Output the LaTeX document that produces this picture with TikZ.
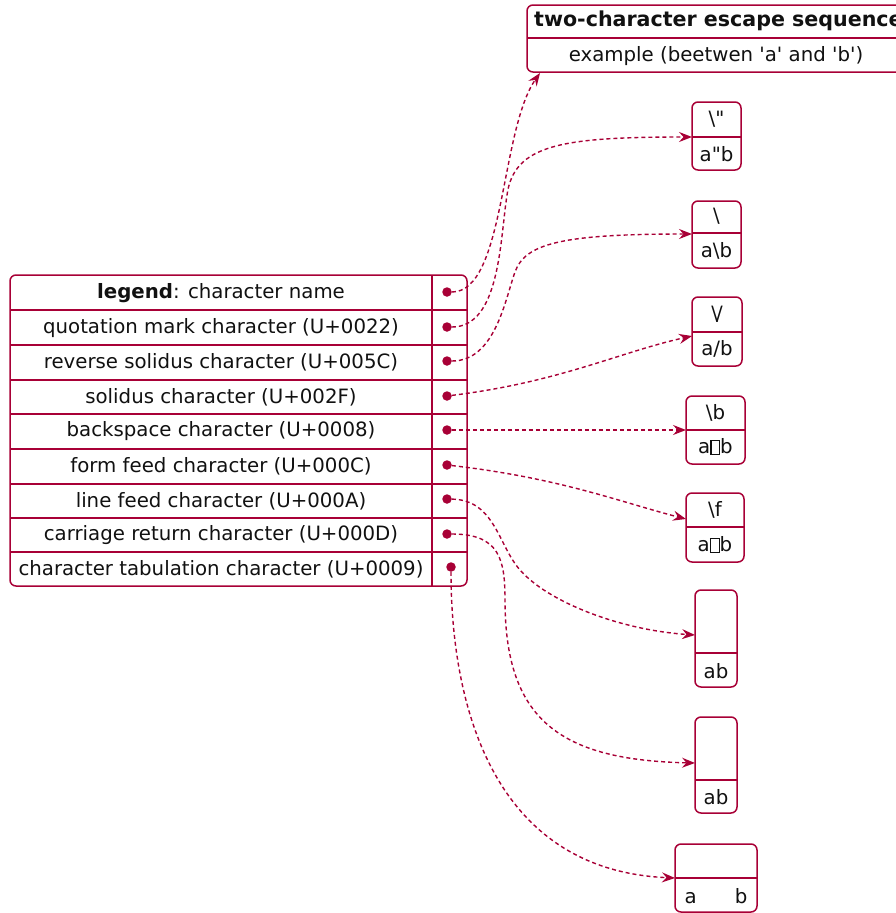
\documentclass[tikz,border=0pt]{standalone}
\usepackage{fontspec}
\setmainfont{DejaVu Sans}
\usetikzlibrary{arrows.meta, calc}
\definecolor{umlred}{HTML}{A80036}
\definecolor{umlink}{HTML}{111111}
\newcommand{\tofubox}{{\setlength{\fboxsep}{0pt}\setlength{\fboxrule}{1.2pt}\fbox{\rule{0pt}{13pt}\hspace{7.5pt}}}}

\begin{document}
\begin{tikzpicture}[x=1pt, y=-1pt,
  cell/.style={font=\fontsize{19.75}{23}\selectfont, text=umlink, inner sep=0pt},
  boxline/.style={umlred, line width=1.5pt, rounded corners=6pt},
  sepline/.style={umlred, line width=1.5pt},
  rowdot/.style={circle, fill=umlred, inner sep=0pt, minimum size=9.5pt},
  link/.style={-{Stealth[length=13pt, width=10pt, inset=4.5pt]}, umlred, line width=1.4pt, dash pattern=on 4pt off 3pt}]

\useasboundingbox (0,0) rectangle (896,913);

% Legend table
\draw[boxline, fill=white] (10,275) rectangle (467,586);
\draw[sepline] (432,275) -- (432,586);
\foreach \y in {310,345,380,414,449,484,518,552}
  \draw[sepline] (10,\y) -- (467,\y);

\node[cell] (legend) at (221,293) {\textbf{legend}: character name};
\node[cell] (quot) at (221,328) {quotation mark character (U+0022)};
\node[cell] (rsol) at (221,362) {reverse solidus character (U+005C)};
\node[cell] (sol) at (221,397) {solidus character (U+002F)};
\node[cell] (bs) at (221,431) {backspace character (U+0008)};
\node[cell] (ff) at (221,466) {form feed character (U+000C)};
\node[cell] (lf) at (221,501) {line feed character (U+000A)};
\node[cell] (cr) at (221,535) {carriage return character (U+000D)};
\node[cell] (tab) at (221,569) {character tabulation character (U+0009)};

\node[rowdot] (legend-dot) at (447,292) {};
\node[rowdot] (quot-dot) at (447,327) {};
\node[rowdot] (rsol-dot) at (447,361) {};
\node[rowdot] (sol-dot) at (447,396) {};
\node[rowdot] (bs-dot) at (447,430) {};
\node[rowdot] (ff-dot) at (447,465) {};
\node[rowdot] (lf-dot) at (447,499) {};
\node[rowdot] (cr-dot) at (447,534) {};
\node[rowdot] (tab-dot) at (451,567) {};

% Header box
\draw[boxline, fill=white] (527,5) rectangle (912,72);
\draw[sepline] (527,38) -- (912,38);
\node[cell, anchor=west] (head) at (534,21) {\fontsize{20.6}{24}\selectfont\bfseries two-character escape sequence};
\node[cell] (head-ex) at (716,56) {example (beetwen \textquotesingle a\textquotesingle{} and \textquotesingle b\textquotesingle)};
\coordinate (head-in) at (540,73);

% Escape boxes
\draw[boxline, fill=white] (692,102) rectangle (741,170);
\draw[sepline] (692,137) -- (741,137);
\node[cell] (quot-esc) at (716.5,119) {\textbackslash\textquotedbl};
\node[cell] (quot-ex) at (716.5,154) {a\textquotedbl b};
\coordinate (quot-in) at (692,137);

\draw[boxline, fill=white] (692,201) rectangle (741,268);
\draw[sepline] (692,233) -- (741,233);
\node[cell] (rsol-esc) at (716.5,216) {\textbackslash};
\node[cell] (rsol-ex) at (716.5,251) {a\textbackslash b};
\coordinate (rsol-in) at (692,234);

\draw[boxline, fill=white] (692,297) rectangle (742,366);
\draw[sepline] (692,332) -- (742,332);
\node[cell] (sol-esc) at (717,314) {\textbackslash\kern-2pt/};
\node[cell] (sol-ex) at (717,349) {a/b};
\coordinate (sol-in) at (692,336);

\draw[boxline, fill=white] (686,396) rectangle (745,464);
\draw[sepline] (686,430) -- (745,430);
\node[cell] (bs-esc) at (715.5,413) {\textbackslash b};
\node[cell] (bs-ex) at (715.5,447) {a\tofubox b};
\coordinate (bs-in) at (686,430);

\draw[boxline, fill=white] (686,493) rectangle (744,562);
\draw[sepline] (686,527) -- (744,527);
\node[cell] (ff-esc) at (715,510) {\textbackslash f};
\node[cell] (ff-ex) at (715,545) {a\tofubox b};
\coordinate (ff-in) at (686,519);

\draw[boxline, fill=white] (695,590) rectangle (737,687);
\draw[sepline] (695,653) -- (737,653);
\node[cell] (lf-ex) at (716,671) {ab};
\coordinate (lf-in) at (695,635);

\draw[boxline, fill=white] (695,717) rectangle (737,813);
\draw[sepline] (695,780) -- (737,780);
\node[cell] (cr-ex) at (716,797) {ab};
\coordinate (cr-in) at (695,763);

\draw[boxline, fill=white] (675,844) rectangle (757,912);
\draw[sepline] (675,878) -- (757,878);
\node[cell] (tab-ex) at (716,896) {a\hspace{38pt}b};
\coordinate (tab-in) at (675,878);

% Links
\draw[link] (legend-dot) .. controls (505,292) and (500,130) .. (head-in);
\draw[link] (quot-dot) .. controls (500,327) and (500,240) .. (507,195)
  .. controls (514,145) and (560,137) .. (quot-in);
\draw[link] (rsol-dot) .. controls (495,361) and (505,300) .. (515,272)
  .. controls (525,244) and (560,234) .. (rsol-in);
\draw[link] (sol-dot) .. controls (560,382) and (620,352) .. (sol-in);
\draw[link] (bs-dot) -- (bs-in);
\draw[link] (ff-dot) .. controls (560,478) and (620,502) .. (ff-in);
\draw[link] (lf-dot) .. controls (495,500) and (498,545) .. (520,570)
  .. controls (548,602) and (620,630) .. (lf-in);
\draw[link] (cr-dot) .. controls (500,534) and (505,560) .. (505,600)
  .. controls (505,720) and (560,760) .. (cr-in);
\draw[link] (tab-dot) .. controls (451,700) and (490,870) .. (tab-in);

\end{tikzpicture}
\end{document}
